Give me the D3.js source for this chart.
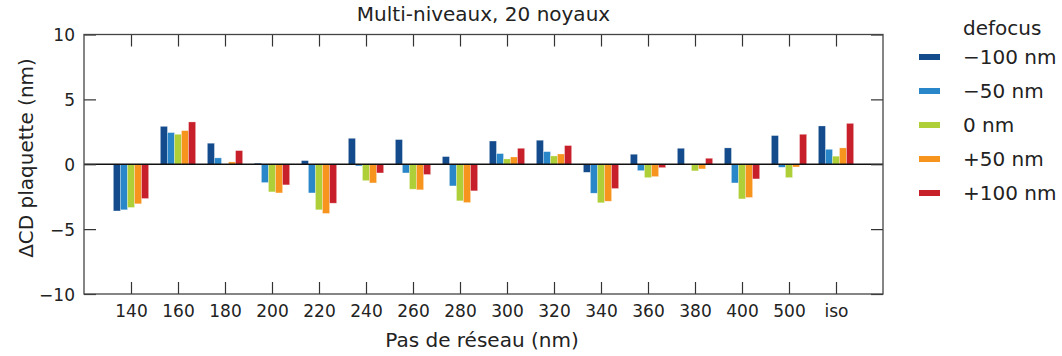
<!DOCTYPE html>
<html>
<head>
<meta charset="utf-8">
<script src="https://cdn.jsdelivr.net/npm/d3@7"></script>
<style>
  html, body { margin: 0; padding: 0; background: #fff; }
  svg { display: block; }
  text { font-family: "DejaVu Sans", sans-serif; fill: #222; }
</style>
</head>
<body>
<svg id="chart" width="1062" height="356"></svg>
<script>
// ---- data ----
const categories = ["140","160","180","200","220","240","260","280","300","320","340","360","380","400","500","iso"];
const seriesNames = ["\u2212100 nm","\u221250 nm","0 nm","+50 nm","+100 nm"];
const seriesColors = ["#144b8c","#2986c9","#aecf38","#f7941e","#c8202a"];
const defocusM100 = [-3.6, 2.92, 1.62, 0.08, 0.28, 2.0, 1.9, 0.59, 1.79, 1.85, -0.62, 0.77, 1.23, 1.26, 2.21, 2.95];
const defocusM50  = [-3.51, 2.44, 0.49, -1.41, -2.21, -0.13, -0.67, -1.67, 0.82, 0.97, -2.23, -0.49, -0.05, -1.44, -0.23, 1.15];
const defocus0    = [-3.33, 2.31, -0.05, -2.13, -3.51, -1.26, -1.92, -2.82, 0.41, 0.64, -2.97, -1.03, -0.51, -2.67, -1.03, 0.62];
const defocusP50  = [-3.05, 2.59, 0.18, -2.21, -3.79, -1.44, -1.97, -2.95, 0.56, 0.79, -2.85, -0.95, -0.36, -2.56, -0.21, 1.26];
const defocusP100 = [-2.64, 3.26, 1.05, -1.59, -3.0, -0.67, -0.79, -2.05, 1.23, 1.44, -1.87, -0.26, 0.46, -1.13, 2.31, 3.15];
const series = [defocusM100, defocusM50, defocus0, defocusP50, defocusP100];
const yTicks = [-10, -5, 0, 5, 10];
const titleText = "Multi-niveaux, 20 noyaux";
const xLabel = "Pas de réseau (nm)";
const yLabel = "\u0394CD plaquette (nm)";
const legendTitle = "defocus";

// ---- layout ----
const svg = d3.select("#chart");
const L = 84, R = 883, T = 34.5, B = 294;
const x = d3.scaleLinear().domain([0, categories.length + 1]).range([L, R]);
const y = d3.scaleLinear().domain([-10, 10]).range([B, T]);
const barW = 0.15;
const nS = series.length;

// bars
series.forEach((vals, j) => {
  svg.append("g").selectAll("rect").data(vals).join("rect")
    .attr("x", (d, i) => x(i + 1 - barW * nS / 2 + j * barW))
    .attr("width", x(barW) - x(0))
    .attr("y", d => y(Math.max(0, d)))
    .attr("height", d => Math.abs(y(d) - y(0)))
    .attr("fill", seriesColors[j])
    .attr("stroke", "#fff").attr("stroke-opacity", 0.45).attr("stroke-width", 0.6);
});

// zero line
svg.append("line").attr("x1", L).attr("x2", R).attr("y1", y(0)).attr("y2", y(0))
  .attr("stroke", "#111").attr("stroke-width", 1.3);

// axes (ticks inward)
const catPos = categories.map((c, i) => i + 1);
const tickLen = 12;
const xb = svg.append("g").attr("transform", `translate(0,${B})`)
  .call(d3.axisBottom(x).tickValues(catPos).tickSize(-tickLen).tickFormat((d) => categories[d - 1]));
xb.select(".domain").remove();
xb.selectAll("text").attr("y", 23.3).attr("dy", null).attr("font-size", 17).attr("font-family", "DejaVu Sans");
const xt = svg.append("g").attr("transform", `translate(0,${T})`)
  .call(d3.axisTop(x).tickValues(catPos).tickSize(-tickLen).tickFormat(""));
xt.select(".domain").remove();
const yl = svg.append("g").attr("transform", `translate(${L},0)`)
  .call(d3.axisLeft(y).tickValues(yTicks).tickSize(-tickLen)
    .tickFormat(d => d < 0 ? "\u2212" + Math.abs(d) : String(d)));
yl.select(".domain").remove();
yl.selectAll("text").attr("x", -9).attr("dy", "0.36em").attr("font-size", 17).attr("font-family", "DejaVu Sans");
const yr = svg.append("g").attr("transform", `translate(${R},0)`)
  .call(d3.axisRight(y).tickValues(yTicks).tickSize(-tickLen).tickFormat(""));
yr.select(".domain").remove();
svg.selectAll(".tick line").attr("stroke", "#333").attr("stroke-width", 1.2);
svg.selectAll(".tick text").attr("fill", "#222");

// frame
svg.append("rect").attr("x", L).attr("y", T).attr("width", R - L).attr("height", B - T)
  .attr("fill", "none").attr("stroke", "#444").attr("stroke-width", 1.3);

// title and labels
svg.append("text").attr("x", (L + R) / 2).attr("y", 21).attr("text-anchor", "middle")
  .attr("font-size", 20).text(titleText);
svg.append("text").attr("x", 482).attr("y", 347).attr("text-anchor", "middle")
  .attr("font-size", 20).text(xLabel);
svg.append("text").attr("transform", `translate(33,158) rotate(-90)`).attr("text-anchor", "middle")
  .attr("font-size", 20).text(yLabel);

// legend
const lg = svg.append("g");
lg.append("text").attr("x", 963).attr("y", 35).attr("font-size", 20).text(legendTitle);
seriesNames.forEach((name, j) => {
  const cy = 57 + j * 34;
  lg.append("rect").attr("x", 919).attr("y", cy - 3).attr("width", 21).attr("height", 6)
    .attr("fill", seriesColors[j]);
  lg.append("text").attr("x", 963).attr("y", cy + 7).attr("font-size", 20).text(name);
});
</script>
</body>
</html>
